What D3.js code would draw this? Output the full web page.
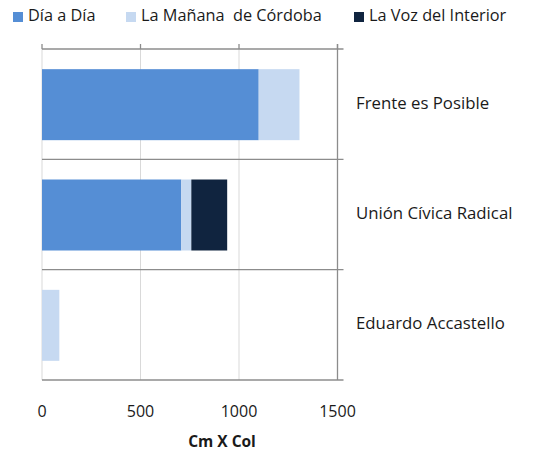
<!DOCTYPE html>
<html>
<head>
<meta charset="utf-8">
<script src="https://cdn.jsdelivr.net/npm/d3@7"></script>
<style>
  body { margin: 0; background: #fff; }
  text { font-family: "Open Sans", sans-serif; fill: #1a1a1a; }
</style>
</head>
<body>
<svg id="chart"></svg>
<script>
// data
const categories = ["Frente es Posible", "Unión Cívica Radical", "Eduardo Accastello"];
const seriesNames = ["Día a Día", "La Mañana  de Córdoba", "La Voz del Interior"];
const diaADia = [1100, 707, 0];
const laManana = [207, 51, 88];
const laVoz = [0, 182, 0];
const xTicks = [0, 500, 1000, 1500];
const axisTitle = "Cm X Col";

const colors = ["#558ED5", "#C6D9F1", "#10243F"];

const width = 536, height = 452;
const plot = { left: 42, right: 337.5, top: 49, bottom: 380 };

const svg = d3.select("#chart")
    .attr("width", width)
    .attr("height", height);

const x = d3.scaleLinear().domain([0, 1500]).range([plot.left, plot.right]);
const y = d3.scaleBand().domain(categories).range([plot.top, plot.bottom]).paddingInner(0).paddingOuter(0);

// vertical gridlines
svg.append("g")
    .selectAll("line")
    .data(xTicks.slice(0, -1))
    .join("line")
    .attr("x1", d => x(d)).attr("x2", d => x(d))
    .attr("y1", plot.top).attr("y2", plot.bottom)
    .attr("stroke", "#d9d9d9")
    .attr("stroke-width", 1);

// stacked bars
const rows = categories.map((c, i) => ({
    cat: c,
    "Día a Día": diaADia[i],
    "La Mañana  de Córdoba": laManana[i],
    "La Voz del Interior": laVoz[i]
}));
const stacked = d3.stack().keys(seriesNames)(rows);

const barH = 71;
svg.append("g")
    .selectAll("g")
    .data(stacked)
    .join("g")
    .attr("fill", (d, i) => colors[i])
    .selectAll("rect")
    .data(d => d.filter(p => p[1] > p[0]))
    .join("rect")
    .attr("x", d => x(d[0]))
    .attr("width", d => x(d[1]) - x(d[0]))
    .attr("y", d => y(d.data.cat) + (y.bandwidth() - barH) / 2 + 0.5)
    .attr("height", barH);

// category boundaries (horizontal lines), extending past right axis
const axisColor = "#8c8c8c";
const bounds = [0, 1, 2, 3].map(i => plot.top + i * y.step());
svg.append("g")
    .selectAll("line")
    .data(bounds)
    .join("line")
    .attr("x1", plot.left)
    .attr("x2", plot.right + 6)
    .attr("y1", d => d).attr("y2", d => d)
    .attr("stroke", axisColor)
    .attr("stroke-width", 1.3);

// right axis line
svg.append("line")
    .attr("x1", plot.right).attr("x2", plot.right)
    .attr("y1", plot.top - 5).attr("y2", plot.bottom)
    .attr("stroke", axisColor)
    .attr("stroke-width", 1.3);

// top tick marks
svg.append("g")
    .selectAll("line")
    .data(xTicks)
    .join("line")
    .attr("x1", d => x(d)).attr("x2", d => x(d))
    .attr("y1", plot.top - 5).attr("y2", plot.top)
    .attr("stroke", axisColor)
    .attr("stroke-width", 1.3);

// category labels on the right
svg.append("g")
    .selectAll("text")
    .data(categories)
    .join("text")
    .attr("x", 356)
    .attr("y", d => y(d) + y.bandwidth() / 2)
    .attr("dominant-baseline", "middle")
    .style("font-size", "16.8px")
    .text(d => d);

// value tick labels at bottom
svg.append("g")
    .selectAll("text")
    .data(xTicks)
    .join("text")
    .attr("x", d => x(d))
    .attr("y", 413)
    .attr("text-anchor", "middle")
    .attr("dominant-baseline", "middle")
    .style("font-size", "16px")
    .text(d => d);

// axis title
svg.append("text")
    .attr("x", 222)
    .attr("y", 443)
    .attr("text-anchor", "middle")
    .attr("dominant-baseline", "middle")
    .style("font-size", "15.5px")
    .style("font-weight", "bold")
    .text(axisTitle);

// legend
const legendX = [13, 126, 354];
const legend = svg.append("g")
    .selectAll("g")
    .data(seriesNames)
    .join("g")
    .attr("transform", (d, i) => `translate(${legendX[i]},12)`);

legend.append("rect")
    .attr("width", 10).attr("height", 10)
    .attr("fill", (d, i) => colors[i]);

legend.append("text")
    .attr("x", 15)
    .attr("y", 5)
    .attr("dominant-baseline", "middle")
    .style("font-size", "16.3px")
    .style("white-space", "pre")
    .attr("xml:space", "preserve")
    .text(d => d);
</script>
</body>
</html>
